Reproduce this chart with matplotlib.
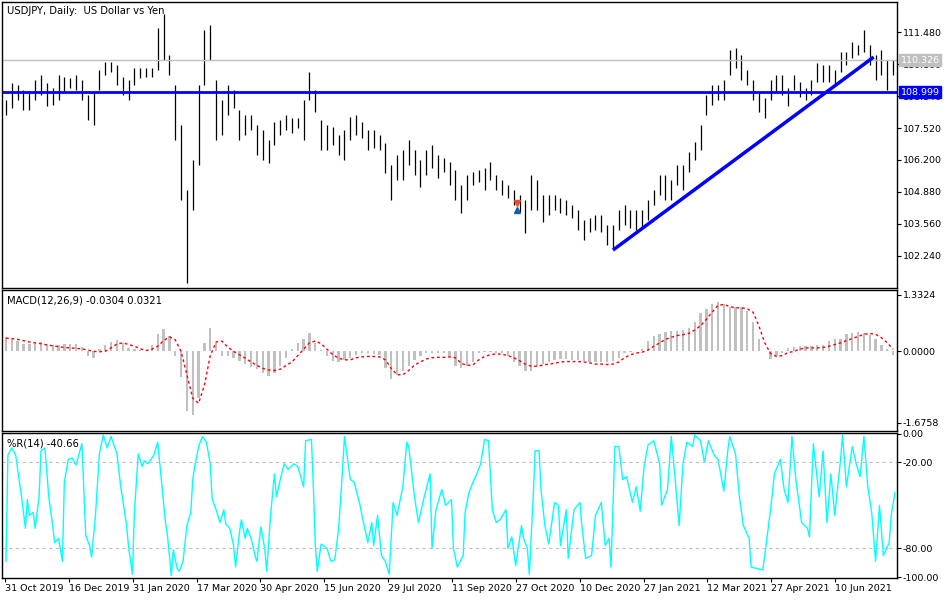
import matplotlib
matplotlib.use("Agg")
import matplotlib.pyplot as plt
import numpy as np

plt.rcParams['font.family'] = ['DejaVu Sans']

# ---- price bars (every 3rd session, session units) ----
bar_start, bar_step = 0, 3
highs = [108.68,109.38,109.30,109.09,108.97,109.51,109.72,109.38,109.18,109.72,109.63,109.59,109.72,109.51,108.89,108.97,109.92,110.25,110.25,110.13,
         109.63,109.51,110.00,110.00,110.00,110.00,111.66,112.24,110.54,109.30,107.64,104.95,106.20,109.30,111.58,111.78,109.51,108.68,109.30,109.09,
         108.27,108.06,108.06,107.64,107.44,107.02,107.77,107.85,108.06,107.93,107.93,108.68,109.84,109.09,107.85,107.64,107.56,107.23,107.44,107.98,
         108.06,107.77,107.44,107.44,107.23,106.90,105.99,106.40,106.61,107.02,106.61,106.20,106.61,106.82,106.40,106.28,106.11,105.78,105.16,105.57,
         105.70,105.78,105.86,106.11,105.57,105.37,105.16,104.95,104.75,104.54,105.57,105.37,104.75,104.75,104.75,104.62,104.54,104.33,104.13,103.71,
         103.79,103.92,103.92,103.50,103.50,104.13,104.33,104.13,104.13,104.13,104.54,104.95,105.57,105.57,105.37,105.99,105.99,106.53,106.94,107.64,
         108.89,109.30,109.30,109.51,110.75,110.83,110.54,109.92,109.51,109.01,108.76,109.51,109.72,109.72,109.18,109.72,109.42,109.18,109.51,110.21,
         110.13,110.13,109.92,110.67,110.67,111.08,110.96,111.58,110.96,110.54,110.75,110.33,110.33]
lows = [108.06,108.35,108.68,108.27,108.27,108.68,108.89,108.43,108.47,108.68,109.01,109.18,109.09,108.68,107.85,107.64,109.09,109.72,109.84,109.30,
        108.89,108.68,109.30,109.59,109.63,109.63,109.92,110.33,109.72,107.02,104.54,101.10,104.13,105.99,109.30,110.33,107.02,107.23,108.06,108.35,
        107.02,107.23,107.44,106.40,106.20,106.07,106.82,107.23,107.44,107.31,107.52,107.02,108.68,108.18,106.61,106.61,106.82,106.40,106.20,107.02,
        107.23,107.11,106.61,106.69,106.61,105.66,104.54,105.37,105.37,105.99,105.57,105.08,105.57,105.86,105.45,105.70,105.16,104.54,104.00,104.54,
        105.16,105.29,104.95,105.37,104.95,104.75,104.62,104.33,104.04,103.17,104.13,104.13,103.63,103.92,104.13,104.00,103.92,103.79,103.30,102.88,
        103.21,103.30,103.21,102.68,102.55,103.30,103.50,103.38,103.30,103.38,103.71,104.33,104.75,104.54,104.54,105.16,104.95,105.70,106.20,106.61,
        108.06,108.47,108.68,108.68,109.72,110.00,109.51,109.30,108.68,108.18,107.93,108.68,109.01,108.89,108.43,109.09,108.80,108.68,108.89,109.42,
        109.42,109.42,109.30,109.84,110.13,110.42,110.54,110.67,110.13,109.51,109.72,109.09,109.72]

macd_hist = [.34,.30,.25,.18,.17,.20,.22,.17,.15,.14,.18,.18,.17,.10,-.10,-.16,.05,.15,.22,.27,
             .20,.08,.05,.02,.00,.15,.40,.52,.35,-.10,-.60,-1.40,-1.50,-1.10,.20,.55,.20,-.10,-.12,-.15,
             -.22,-.30,-.36,-.42,-.50,-.57,-.52,-.35,-.15,.05,.20,.30,.43,.20,.02,-.10,-.22,-.25,-.20,-.15,
             -.08,-.05,-.05,-.06,-.08,-.40,-.65,-.55,-.45,-.35,-.20,-.12,-.05,-.04,-.03,-.04,-.10,-.35,-.40,-.35,
             -.25,-.05,-.02,-.02,-.03,-.04,-.10,-.25,-.35,-.45,-.45,-.35,-.30,-.25,-.20,-.18,-.18,-.20,-.20,-.22,
             -.25,-.25,-.25,-.25,-.22,-.15,-.05,-.02,.00,.05,.25,.35,.40,.45,.47,.47,.50,.55,.70,.90,
             1.00,1.10,1.16,1.10,1.05,1.03,1.05,.95,.70,.30,.00,-.18,-.12,-.03,.08,.10,.12,.12,.12,.14,
             .15,.25,.28,.30,.40,.43,.45,.42,.38,.28,.15,.05,-.08]
macd_signal = [.31,.30,.28,.25,.22,.20,.18,.15,.13,.11,.09,.08,.07,.06,.03,.00,-.01,.00,.08,.17,
               .20,.16,.12,.06,.02,.05,.12,.25,.34,.27,.00,-.55,-1.10,-1.22,-.80,-.10,.22,.24,.10,.00,
               -.08,-.16,-.25,-.33,-.40,-.44,-.45,-.42,-.33,-.25,-.10,.05,.20,.24,.18,.05,-.08,-.16,-.20,-.20,
               -.15,-.13,-.12,-.12,-.13,-.20,-.40,-.55,-.55,-.45,-.32,-.25,-.18,-.15,-.14,-.14,-.13,-.15,-.28,-.33,
               -.32,-.20,-.12,-.08,-.06,-.07,-.10,-.15,-.22,-.30,-.35,-.35,-.32,-.30,-.28,-.25,-.24,-.24,-.24,-.25,
               -.27,-.30,-.30,-.31,-.30,-.25,-.15,-.08,-.04,-.02,.03,.12,.20,.28,.33,.37,.39,.42,.50,.60,
               .75,.92,1.08,1.10,1.05,1.02,1.02,1.00,.92,.60,.20,-.05,-.12,-.10,-.03,.00,.05,.08,.08,.08,
               .09,.12,.16,.20,.25,.30,.35,.40,.42,.40,.32,.20,.05]

wpr_s = [0,1,3,5,6,8,10,11,12,14,15,17,18,20,22,24,25,27,29,30,32,34,36,39,41,43,44,46,48,50,52,54,57,59,62,63,65,66,68,70,71,73,76,78,80,82,83,85,86,88,89,91,93,95,96,97,99,101,103,105,106,108,110,112,113,115,117,118,120,121,123,124,126,128,129,131,133,134,136,138,139,141,143,145,148,150,153,154,157,158,159,160,162,165,167,169,171,173,174,177,179,182,183,186,188,189,191,193,195,197,199,201,204,206,207,210,212,215,218,219,221,224,226,
         229,230,232,235,236,238,240,242,244,246,248,250,252,254,257,258,260,262,265,266,268,269,271,272,274,275,277,279,282,284,285,288,289,292,295,296,298,301,303,306,308,310,311,313,315,317,319,322,324,326,328,330,333,336,337,340,342,344,346,348,350,353,354,357,359,361,364,366,369,371,372,375,377,379,382,383,386,389,390,393,395,398,400,402,404,406,409,412,413,415,418,420,422,424,426,429,430,432,435,437,439,441,443,445,447,449,451,454,455,457]
wpr_v = [-89,-15,-10,-15,-25,-44,-66,-46,-57,-55,-66,-44,-12,-10,-44,-64,-76,-73,-89,-34,-18,-17,-22,-7,-71,-78,-86,-57,-14,-1,-10,-2,-14,-37,-64,-79,-98,-55,-14,-23,-19,-21,-15,-6,-34,-62,-71,-99,-81,-94,-96,-89,-64,-55,-32,-23,-9,-2,-6,-21,-46,-53,-62,-53,-63,-66,-78,-93,-69,-60,-73,-66,-73,-85,-89,-65,-80,-96,-57,-28,-44,-32,-21,-25,-21,-23,-37,-5,-4,-37,-78,-96,-77,-80,-89,-88,-66,-25,-2,-32,-34,-50,-57,-76,-62,-78,-57,-85,-89,-98,-48,-57,-37,-6,-9,-44,-62,-44,-28,-80,-53,-39,-50,
         -46,-80,-93,-85,-55,-41,-34,-28,-21,-4,-5,-53,-62,-60,-53,-80,-72,-92,-64,-73,-80,-98,-44,-12,-12,-39,-64,-77,-48,-50,-78,-53,-87,-53,-48,-64,-87,-85,-57,-48,-78,-73,-93,-9,-9,-32,-30,-48,-37,-54,-23,-8,-5,-21,-50,-39,-2,-32,-64,-21,-6,-9,-1,-5,-20,-5,-15,-18,-40,-12,-2,-14,-44,-64,-73,-93,-94,-95,-85,-53,-28,-18,-39,-48,-2,-32,-62,-66,-72,-7,-44,-12,-62,-28,-57,-18,-1,-37,-9,-21,-30,-2,-37,-55,-89,-50,-85,-76,-57,-41]

tick_labels = ["31 Oct 2019","16 Dec 2019","31 Jan 2020","17 Mar 2020","30 Apr 2020","15 Jun 2020","29 Jul 2020",
               "11 Sep 2020","27 Oct 2020","10 Dec 2020","27 Jan 2021","12 Mar 2021","27 Apr 2021","10 Jun 2021"]
tick_pos = [32.82 * k - 0.5 for k in range(len(tick_labels))]

price_ticks = [111.480,110.160,108.840,107.520,106.200,104.880,103.560,102.240]
ask_line, support_line = 110.326, 108.999
trend_s, trend_p = [312, 446], [102.47, 110.46]
arrow_s, arrow_sell, arrow_buy = 262.6, 104.41, 104.13

bar_x = np.arange(len(highs)) * bar_step + bar_start
XL = (-2.05, 458)

fig = plt.figure(figsize=(9.5, 6.0), dpi=100)
W = 895/950; L = 2/950
ax1 = fig.add_axes([L, 1-288/600, W, 286/600])
ax2 = fig.add_axes([L, 1-431/600, W, 141/600])
ax3 = fig.add_axes([L, 1-578/600, W, 145/600])
FS = 6.8
for ax in (ax1, ax2, ax3):
    ax.set_xlim(*XL)
    ax.yaxis.tick_right()
    ax.tick_params(axis='y', direction='out', length=3, labelsize=FS, pad=1)
    ax.tick_params(axis='x', direction='out', length=3, labelsize=FS, pad=1)
    for sp in ax.spines.values():
        sp.set_linewidth(1.0); sp.set_color('black')
ax1.set_xticks([]); ax2.set_xticks([])

# main
ax1.vlines(bar_x, lows, highs, color='black', lw=0.9)
ax1.set_ylim(100.90, 112.74)
ax1.set_yticks(price_ticks)
ax1.set_yticklabels([f"{v:.3f}" for v in price_ticks])
ax1.axhline(ask_line, color='#c0c0c0', lw=1)
ax1.axhline(support_line, color='#0000ff', lw=2)
ax1.plot(trend_s, trend_p, color='#0000ff', lw=2.5, solid_capstyle='butt')
ax1.plot([arrow_s], [arrow_sell], marker='v', color='#e8502a', ms=5)
ax1.plot([arrow_s], [arrow_buy], marker='^', color='#1060b0', ms=5)
for val, col in ((ask_line, '#c0c0c0'), (support_line, '#0000ff')):
    ax1.text(1.004, val, f"{val:.3f}", transform=ax1.get_yaxis_transform(), va='center', ha='left',
             fontsize=FS, color='white', zorder=10,
             bbox=dict(boxstyle='square,pad=0.15', fc=col, ec=col))
ax1.text(0.006, 0.985, "USDJPY, Daily:  US Dollar vs Yen", transform=ax1.transAxes, va='top', fontsize=7.2)

# MACD
ax2.bar(bar_x, macd_hist, width=1.2, color='#c0c0c0', lw=0)
ax2.plot(bar_x, macd_signal, color='red', lw=1, ls=(0, (2, 2)))
ax2.set_ylim(-1.87, 1.44)
ax2.set_yticks([1.3324, 0.0, -1.6758])
ax2.set_yticklabels(["1.3324", "0.0000", "-1.6758"])
ax2.text(0.006, 0.96, "MACD(12,26,9) -0.0304 0.0321", transform=ax2.transAxes, va='top', fontsize=7.2)

# %R
ax3.plot(wpr_s, wpr_v, color='#00ffff', lw=1)
ax3.axhline(-20, color='#c0c0c0', lw=0.8, ls=(0, (3, 3)))
ax3.axhline(-80, color='#c0c0c0', lw=0.8, ls=(0, (3, 3)))
ax3.set_ylim(-100.6, 0.4)
ax3.set_yticks([0, -20, -80, -100])
ax3.set_yticklabels(["0.00", "-20.00", "-80.00", "-100.00"])
ax3.text(0.006, 0.96, "%R(14) -40.66", transform=ax3.transAxes, va='top', fontsize=7.2)
ax3.set_xticks(tick_pos)
ax3.set_xticklabels(tick_labels, ha='left')

fig.savefig("out.png", dpi=100)
